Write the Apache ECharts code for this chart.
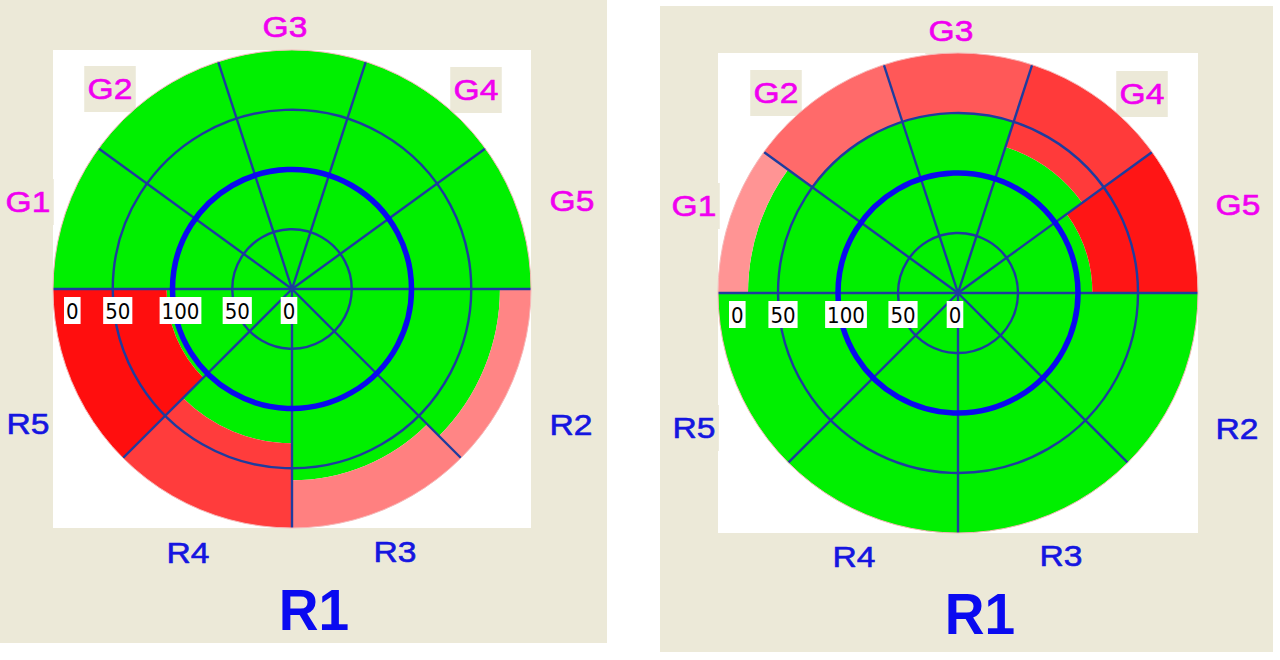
<!DOCTYPE html>
<html><head><meta charset="utf-8">
<script src="https://cdn.jsdelivr.net/npm/echarts@6/dist/echarts.min.js"></script>
<style>html,body{margin:0;padding:0;background:#fff;}#c{width:1280px;height:660px;}</style>
</head><body><div id="c"></div>
<script>
// ---------------- data ----------------
const sectorNames = ['G1', 'G2', 'G3', 'G4', 'G5', 'R2', 'R3', 'R4', 'R5'];
const sectorStart = [0, 36, 72, 108, 144, 180, 225, 270, 315];   // angle-axis values
const sectorEnd   = [36, 72, 108, 144, 180, 225, 270, 315, 360];
const leftGreen   = [200, 200, 200, 200, 200, 174, 160, 129, 105]; // radius where green ends
const rightGreen  = [175, 150, 150, 128, 112, 200, 200, 200, 200];
const ringValues  = [50, 100, 150, 200];
const spokeAngles = [0, 36, 72, 108, 144, 180, 225, 270, 315];
const radiusTickLabels = ['0', '50', '100', '50', '0'];
const titleText = 'R1';

// ---------------- style / layout ----------------
const GREEN = '#00F000';
const leftFill  = ['#FF8080', '#FF8080', '#FF8080', '#FF8080', '#FF8080', '#FF8585', '#FF8080', '#FF3C3C', '#FF0E0E'];
const rightFill = ['#FF9494', '#FF6A6A', '#FF5858', '#FF3A3A', '#FF1515', '#FF8080', '#FF8080', '#FF8080', '#FF8080'];
const BEIGE = '#ECE9D8';
const LINE = '#1E3C9E';
const panels = [
  { cx: 292, cy: 289, r: 239, bg: [0, 0, 607, 643], fill: leftFill, green: leftGreen },
  { cx: 958, cy: 293, r: 240, bg: [660, 6, 613, 646], fill: rightFill, green: rightGreen }
];
const labelOffsets = [[-264, -87], [-182, -200], [-7, -262], [184, -199], [280, -88],
                      [279, 136], [103, 263], [-104, 264], [-264, 135]];
const titleOffset = [22, 321];
const tickShift = [-3, 5, 8, 5, 11]; // px nudge of each tick label box

function sectorRender(fills) {
  return function (params, api) {
    const g = api.value(0), v0 = api.value(1), v1 = api.value(2);
    const c = api.coord([0, v0]);
    const p0 = api.coord([200, v0]), p1 = api.coord([200, v1]);
    let a0 = Math.atan2(p0[1] - c[1], p0[0] - c[0]);
    let a1 = Math.atan2(p1[1] - c[1], p1[0] - c[0]);
    while (a1 <= a0 + 1e-6) a1 += Math.PI * 2;
    const rOut = Math.hypot(p0[0] - c[0], p0[1] - c[1]);
    const pg = api.coord([g, v0]);
    const rG = Math.hypot(pg[0] - c[0], pg[1] - c[1]);
    const children = [{
      type: 'sector',
      shape: { cx: c[0], cy: c[1], r0: 0, r: rG, startAngle: a0, endAngle: a1, clockwise: true },
      style: { fill: GREEN }
    }];
    if (rG < rOut - 0.5) {
      children.push({
        type: 'sector',
        shape: { cx: c[0], cy: c[1], r0: rG, r: rOut, startAngle: a0, endAngle: a1, clockwise: true },
        style: { fill: fills[params.dataIndex] }
      });
    }
    return { type: 'group', children };
  };
}
function spokeRender(params, api) {
  const v = api.value(1);
  const c = api.coord([0, v]), p = api.coord([api.value(0), v]);
  return { type: 'line', shape: { x1: c[0], y1: c[1], x2: p[0], y2: p[1] },
           style: { stroke: LINE, lineWidth: 2.4 } };
}
function ringRender(params, api) {
  const rv = api.value(0);
  const c = api.coord([0, 0]), p = api.coord([rv, 0]);
  const r = Math.hypot(p[0] - c[0], p[1] - c[1]);
  let style;
  if (rv === 100) style = { stroke: '#0A0AF0', lineWidth: 5.5, fill: null };
  else if (rv === 200) style = { stroke: '#F6B8B8', lineWidth: 1, fill: null };
  else style = { stroke: LINE, lineWidth: 2.4, fill: null };
  return { type: 'circle', shape: { cx: c[0], cy: c[1], r }, style };
}

const rich = {
  t: { color: '#000', fontSize: 22, fontFamily: '"Liberation Sans Narrow","DejaVu Sans Condensed","Liberation Sans",sans-serif',
       backgroundColor: '#fff', padding: [3, 2, 2, 2] }
};
tickShift.forEach((s, k) => { rich['g' + k] = { width: (k === 4 ? Math.abs(s) : 2 * Math.abs(s)), fontSize: 22 }; });
function tickFormatter(v) {
  const k = Math.round(v / 50);
  const lab = '{t|' + radiusTickLabels[k] + '}';
  const gap = '{g' + k + '| }';
  return tickShift[k] >= 0 ? gap + lab : lab + gap;
}

const polar = [], angleAxis = [], radiusAxis = [], series = [], graphic = [];
panels.forEach((P, i) => {
  polar.push({ center: [P.cx, P.cy], radius: P.r });
  angleAxis.push({ polarIndex: i, type: 'value', min: 0, max: 360, startAngle: 180, clockwise: true,
    axisLine: { show: false }, axisTick: { show: false }, axisLabel: { show: false }, splitLine: { show: false } });
  radiusAxis.push({ polarIndex: i, type: 'value', min: 0, max: 200, interval: 50, z: 10,
    axisLine: { show: false }, axisTick: { show: false }, splitLine: { show: false },
    axisLabel: { formatter: tickFormatter, rich, margin: 8,
      showMinLabel: true, showMaxLabel: true, alignMaxLabel: 'left' } });
  series.push({ type: 'custom', coordinateSystem: 'polar', polarIndex: i, z: 2, silent: true,
    encode: { radius: 0, angle: 1 },
    data: sectorNames.map((n, k) => ({ name: n, value: [P.green[k], sectorStart[k], sectorEnd[k]] })),
    renderItem: sectorRender(P.fill) });
  series.push({ type: 'custom', coordinateSystem: 'polar', polarIndex: i, z: 3, silent: true,
    encode: { radius: 0, angle: 1 },
    data: spokeAngles.map(a => [200, a]), renderItem: spokeRender });
  series.push({ type: 'custom', coordinateSystem: 'polar', polarIndex: i, z: 3, silent: true,
    encode: { radius: 0, angle: 1 },
    data: ringValues.map(r => [r, 0]), renderItem: ringRender });

  graphic.push({ type: 'rect', z: 0, z2: 0, silent: true,
    shape: { x: P.bg[0], y: P.bg[1], width: P.bg[2], height: P.bg[3] }, style: { fill: BEIGE } });
  graphic.push({ type: 'rect', z: 0, z2: 1, silent: true,
    shape: { x: P.cx - P.r, y: P.cy - P.r, width: 2 * P.r, height: 2 * P.r }, style: { fill: '#fff' } });
  sectorNames.forEach((n, k) => {
    const col = n.charAt(0) === 'G' ? '#F000F0' : '#1515E0';
    graphic.push({ type: 'text', z: 0, z2: 5, silent: true,
      x: P.cx + labelOffsets[k][0], y: P.cy + labelOffsets[k][1], scaleX: 1.12,
      style: { text: n, x: 0, y: 0, align: 'center', verticalAlign: 'middle',
        fill: col, stroke: col, lineWidth: 0.6, fontSize: 30, fontFamily: '"Liberation Sans",Arial,sans-serif',
        backgroundColor: BEIGE, padding: [8, 3] } });
  });
  graphic.push({ type: 'text', z: 0, z2: 5, silent: true,
    x: P.cx + titleOffset[0], y: P.cy + titleOffset[1], scaleX: 0.95,
    style: { text: titleText, x: 0, y: 0, align: 'center', verticalAlign: 'middle',
      fill: '#0A0AF0', fontSize: 58, fontWeight: 'bold', fontFamily: '"Liberation Sans",Arial,sans-serif' } });
});

const chart = echarts.init(document.getElementById('c'), null, { renderer: 'svg' });
chart.setOption({ animation: false, backgroundColor: '#fff', polar, angleAxis, radiusAxis, series, graphic });
</script>
</body></html>
